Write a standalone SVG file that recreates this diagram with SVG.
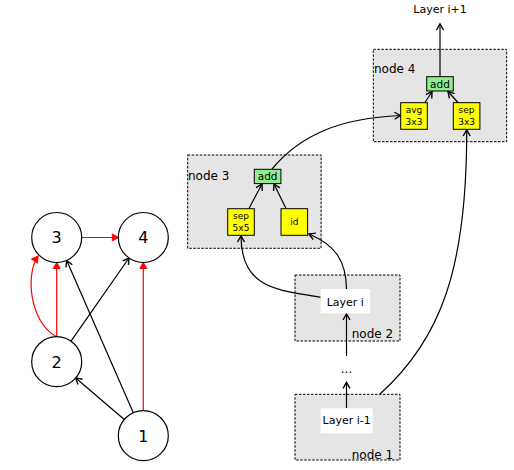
<svg xmlns="http://www.w3.org/2000/svg" width="514" height="470" viewBox="0 0 514 470">
<style>
text{font-family:"DejaVu Sans","Liberation Sans",sans-serif;fill:#000}
.circ{fill:#fff;stroke:#000;stroke-width:1.2}
.num{font-size:16px;text-anchor:middle}
.cell{fill:#e5e5e5;stroke:#000;stroke-width:1;stroke-dasharray:2.5,1.5}
.lbl{font-size:12px}
.op{fill:#ffff00;stroke:#000;stroke-width:1}
.add{fill:#90ee90;stroke:#000;stroke-width:1}
.opt{font-size:9px;text-anchor:middle}
.addt{font-size:10.5px;text-anchor:middle}
.lay{fill:#fff}
.layt{font-size:11px;text-anchor:middle}
.k{fill:none;stroke:#000;stroke-width:1.2;marker-end:url(#ak)}
.r{fill:none;stroke:#ff0000;stroke-width:1.2;marker-end:url(#ar)}
</style>
<defs>
<marker id="ak" markerUnits="userSpaceOnUse" markerWidth="12" markerHeight="12" viewBox="-8 -6 10 12" refX="0" refY="0" orient="auto">
<path d="M-6,-3.5 L0,0 L-6,3.5" fill="none" stroke="#000" stroke-width="1.4"/>
</marker>
<marker id="ar" markerUnits="userSpaceOnUse" markerWidth="12" markerHeight="12" viewBox="-8 -6 10 12" refX="0" refY="0" orient="auto">
<path d="M-6,-3.5 L0,0 L-6,3.5 Z" fill="#ff0000" stroke="#ff0000" stroke-width="1"/>
</marker>
</defs>

<g id="cell1">
<rect class="cell" x="295" y="394.3" width="105" height="65.7"/>
<text class="lbl" x="351.7" y="459">node 1</text>
</g>
<g id="cell2">
<rect class="cell" x="295" y="275" width="105" height="66"/>
<text class="lbl" x="351.7" y="337.5">node 2</text>
</g>
<g id="cell3">
<rect class="cell" x="187.7" y="155" width="133.4" height="93.3"/>
<text class="lbl" x="188" y="179.5">node 3</text>
</g>
<g id="cell4">
<rect class="cell" x="373.3" y="49.3" width="133.4" height="92.4"/>
<text class="lbl" x="374" y="73">node 4</text>
</g>

<g id="connectors">
<path class="r" d="M81.7,237.5 L118.3,237.5"/>
<path class="r" d="M56.7,336.7 L56.7,262.5"/>
<path class="r" d="M56,336.5 C30,322 25,275 38,256"/>
<path class="r" d="M143.3,410.7 L143.3,262.5"/>
<path class="k" d="M133.3,412.8 L66.7,260.6"/>
<path class="k" d="M71,341.2 L129,258"/>
<path class="k" d="M124.3,419.5 L75.7,378"/>

<path class="k" d="M440,76.7 L440,24"/>
<path class="k" d="M425,102.5 L432,91.5"/>
<path class="k" d="M458,102.5 L448,91.5"/>
<path class="k" d="M249,208.5 L262,184"/>
<path class="k" d="M286,208.5 L274,184"/>
<path class="k" d="M272,169 C300,135 340,118 400.5,115.5"/>
<path class="k" d="M320.7,297.3 C280,290 241,290 241,236"/>
<path class="k" d="M346.5,289 C346,260 335,245 309,234"/>
<path class="k" d="M346.5,356 L346.5,314"/>
<path class="k" d="M346.5,408 L346.5,382.5"/>
<path class="k" d="M380,394 C440,340 467,270 466.7,130"/>
</g>

<g id="n3">
<circle class="circ" cx="56.7" cy="237.5" r="25"/>
<text class="num" x="56.7" y="243.3">3</text>
</g>
<g id="n4">
<circle class="circ" cx="143.3" cy="237.5" r="25"/>
<text class="num" x="143.3" y="243.3">4</text>
</g>
<g id="n2">
<circle class="circ" cx="56.7" cy="361.7" r="25"/>
<text class="num" x="56.7" y="367.5">2</text>
</g>
<g id="n1">
<circle class="circ" cx="143.3" cy="435.7" r="25"/>
<text class="num" x="143.3" y="441.5">1</text>
</g>

<g id="layer_ip1">
<text class="layt" x="440" y="13">Layer i+1</text>
</g>
<g id="add4">
<rect class="add" x="426.7" y="76.7" width="26.6" height="14.3"/>
<text class="addt" x="440" y="87.6">add</text>
</g>
<g id="avg3x3">
<rect class="op" x="400.7" y="102.7" width="26.6" height="26.6"/>
<text class="opt" x="414" y="112.5">avg</text>
<text class="opt" x="414" y="125">3x3</text>
</g>
<g id="sep3x3">
<rect class="op" x="453.3" y="102.7" width="26.6" height="26.6"/>
<text class="opt" x="466.6" y="112.5">sep</text>
<text class="opt" x="466.6" y="125">3x3</text>
</g>
<g id="add3">
<rect class="add" x="254.3" y="169.3" width="26.6" height="14.3"/>
<text class="addt" x="267.6" y="180.2">add</text>
</g>
<g id="sep5x5">
<rect class="op" x="227.7" y="208.7" width="26.6" height="26.6"/>
<text class="opt" x="241" y="218.5">sep</text>
<text class="opt" x="241" y="231">5x5</text>
</g>
<g id="id">
<rect class="op" x="281" y="208.7" width="26.6" height="26.6"/>
<text class="opt" x="294.3" y="225">id</text>
</g>
<g id="layer_i">
<rect class="lay" x="320.7" y="289" width="49.3" height="24.3"/>
<text class="layt" x="345.3" y="305.5">Layer i</text>
</g>
<g id="dots">
<text class="lbl" x="346.5" y="373" text-anchor="middle">...</text>
</g>
<g id="layer_im1">
<rect class="lay" x="320.7" y="408.3" width="52" height="25"/>
<text class="layt" x="346.7" y="424.3">Layer i-1</text>
</g>
</svg>
